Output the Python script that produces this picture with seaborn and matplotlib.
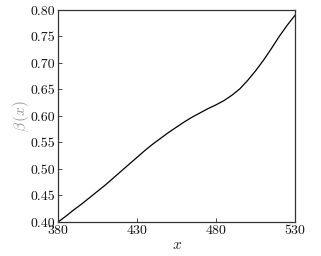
import matplotlib
matplotlib.use("Agg")
import matplotlib.pyplot as plt
import seaborn as sns
import pandas as pd

x_vals = [380, 385, 390, 395, 400, 405, 410, 415, 420, 425, 430, 435, 440, 445, 450,
          455, 460, 465, 470, 475, 480, 485, 490, 495, 500, 505, 510, 515, 520, 525, 530]
beta_vals = [0.400, 0.411, 0.423, 0.434, 0.446, 0.458, 0.470, 0.483, 0.496, 0.509,
             0.522, 0.535, 0.547, 0.558, 0.569, 0.579, 0.589, 0.598, 0.606, 0.614,
             0.621, 0.629, 0.639, 0.651, 0.667, 0.685, 0.705, 0.727, 0.750, 0.771, 0.790]
x_ticks = [380, 430, 480, 530]
y_ticks = [0.40, 0.45, 0.50, 0.55, 0.60, 0.65, 0.70, 0.75, 0.80]

sns.set_style("ticks")
plt.rcParams['font.family'] = ['cmr10', 'DejaVu Serif']
plt.rcParams['mathtext.fontset'] = 'cm'
plt.rcParams['axes.formatter.use_mathtext'] = True

df = pd.DataFrame({"x": x_vals, "beta": beta_vals})

fig = plt.figure(figsize=(3.21, 2.56), dpi=100)
ax = fig.add_axes([0.181, 0.133, 0.738, 0.828])
sns.lineplot(data=df, x="x", y="beta", ax=ax, color="black", linewidth=0.9)

ax.set_xlim(380, 530)
ax.set_ylim(0.40, 0.80)
ax.set_xticks(x_ticks)
ax.set_xticklabels([str(t) for t in x_ticks])
ax.set_yticks(y_ticks)
ax.set_yticklabels([f"{t:.2f}" for t in y_ticks])
ax.tick_params(direction="in", length=3, width=0.6, labelsize=10, pad=2, labelcolor="#111111")
for s in ax.spines.values():
    s.set_linewidth(0.9)
    s.set_color("#333333")
ax.set_xlabel(r"$x$", fontsize=11, labelpad=1)
ax.set_ylabel(r"$\beta\,(x)$", fontsize=11, color="#9a9a9a", labelpad=0)

fig.savefig("out.png", dpi=100)
